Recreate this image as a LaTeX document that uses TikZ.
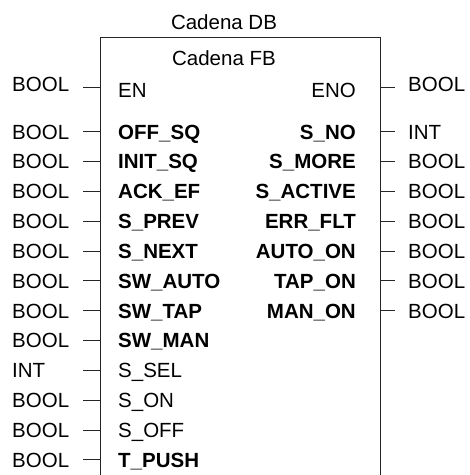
\documentclass[tikz,border=0pt]{standalone}
\usepackage{fontspec}
\setmainfont{Liberation Sans}
\usetikzlibrary{positioning}

\newcommand\blkfont{\fontsize{20.5}{24}\selectfont}
\tikzset{
  tyL/.style={anchor=base west, inner sep=0pt},
  tyR/.style={anchor=base west, inner sep=0pt},
  pinL/.style={anchor=base west, inner sep=0pt},
  pinR/.style={anchor=base east, inner sep=0pt},
  wire/.style={line width=0.8pt, black!85},
}

\begin{document}
\begin{tikzpicture}[x=1pt,y=-1pt,font=\blkfont]
\useasboundingbox (0,0) rectangle (470,475);
% Block (open at the bottom)
\coordinate (fbnw) at (100,37);
\coordinate (fbne) at (380,37);
\draw[wire] (100,478) -- (fbnw) -- (fbne) -- (380,478);
\node[anchor=base, inner sep=0pt] (dbname) at (224,29.5) {Cadena DB};
\node[anchor=base, inner sep=0pt] (fbname) at (224,65.5) {Cadena FB};
% EN / ENO
\node[tyL] (tEN) at (12,91.5) {BOOL};
\coordinate (cEN) at (83,87);
\draw[wire] (cEN) -- (cEN -| fbnw);
\node[pinL] (pEN) at (118,97.5) {EN};
\node[pinR] (pENO) at (356,97.5) {ENO};
\coordinate (cENO) at (395,87);
\draw[wire] (cENO -| fbne) -- (cENO);
\node[tyR] (tENO) at (408,91.5) {BOOL};
% Inputs
\foreach \lab/\typ/\wt [count=\i] in {OFF\_SQ/BOOL/\bfseries, INIT\_SQ/BOOL/\bfseries,
    ACK\_EF/BOOL/\bfseries, S\_PREV/BOOL/\bfseries, S\_NEXT/BOOL/\bfseries,
    SW\_AUTO/BOOL/\bfseries, SW\_TAP/BOOL/\bfseries, SW\_MAN/BOOL/\bfseries,
    S\_SEL/INT/\mdseries, S\_ON/BOOL/\mdseries, S\_OFF/BOOL/\mdseries,
    T\_PUSH/BOOL/\bfseries} {
  \pgfmathsetmacro{\yy}{131.5+(\i-1)*29.85}
  \node[tyL] (inT\i) at (12,\yy+7.5) {\typ};
  \coordinate (inC\i) at (83,\yy);
  \draw[wire] (inC\i) -- (inC\i -| fbnw);
  \node[pinL, font=\blkfont\wt] (in\i) at (118,\yy+7.5) {\lab};
}
% Outputs
\foreach \lab/\typ [count=\i] in {S\_NO/INT, S\_MORE/BOOL, S\_ACTIVE/BOOL,
    ERR\_FLT/BOOL, AUTO\_ON/BOOL, TAP\_ON/BOOL, MAN\_ON/BOOL} {
  \pgfmathsetmacro{\yy}{131.5+(\i-1)*29.85}
  \node[pinR, font=\blkfont\bfseries] (out\i) at (356,\yy+7.5) {\lab};
  \coordinate (outC\i) at (395,\yy);
  \draw[wire] (outC\i -| fbne) -- (outC\i);
  \node[tyR] (outT\i) at (408,\yy+7.5) {\typ};
}
\end{tikzpicture}
\end{document}
